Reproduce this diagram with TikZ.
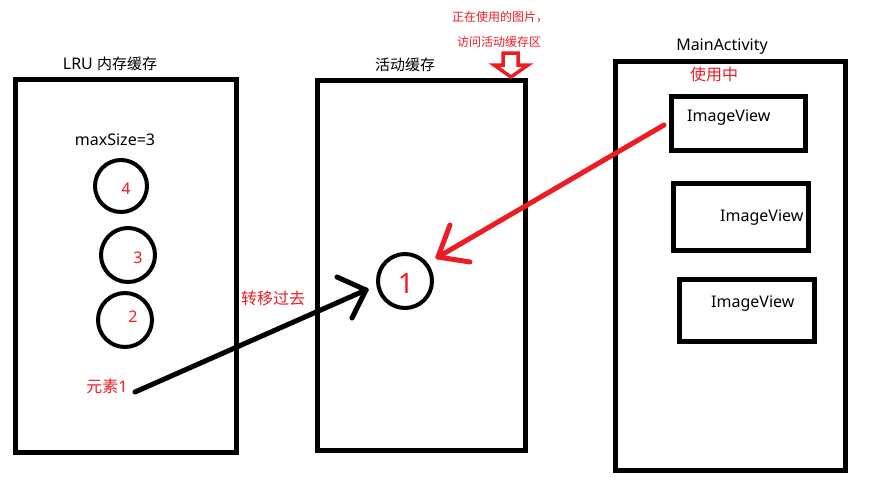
\documentclass[tikz,border=0pt]{standalone}
\usepackage{fontspec}
\setmainfont{Noto Sans}
\newfontfamily\cjk{Noto Sans CJK SC}
\definecolor{pred}{RGB}{237,28,36}
\begin{document}
\begin{tikzpicture}[x=1pt,y=-1pt,
  box/.style={draw=black,line width=5pt,inner sep=0pt},
  ring/.style={draw=black,line width=4pt,circle,inner sep=0pt},
  lbl/.style={font=\fontsize{16}{18}\selectfont,inner sep=0pt,text=black},
  rlbl/.style={font=\fontsize{16}{18}\selectfont,inner sep=0pt,text=pred},
  blk/.style={draw=black,line width=5pt,line cap=round},
  red/.style={draw=pred,line width=5pt,line cap=round}]
\useasboundingbox (0,0) rectangle (870,483);
% containers
\node[box,minimum width=221,minimum height=373] (lru) at (125.5,265.5) {};
\node[box,minimum width=208,minimum height=370] (act) at (421,265) {};
\node[box,minimum width=230,minimum height=409] (main) at (730,265.5) {};
\node[lbl,anchor=base] (lrut) at (110,69) {LRU {\cjk\fontsize{15}{18}\selectfont 内存缓存}};
\node[lbl,anchor=base] (actt) at (405,70) {\cjk\fontsize{15}{18}\selectfont 活动缓存};
\node[lbl,anchor=base] (maint) at (722,50) {MainActivity};
% image views
\node[box,minimum width=134,minimum height=54] (iv1) at (738,123) {};
\node[box,minimum width=135,minimum height=67] (iv2) at (740.5,216.5) {};
\node[box,minimum width=135,minimum height=62] (iv3) at (746.5,310) {};
\node[lbl,anchor=west] (ivt1) at (687,118) {ImageView};
\node[lbl,anchor=west] (ivt2) at (720,218) {ImageView};
\node[lbl,anchor=west] (ivt3) at (711,304) {ImageView};
\node[rlbl,anchor=base] (use) at (714,80) {\cjk 使用中};
% circles in LRU
\node[lbl,anchor=base] (max) at (115,145) {maxSize=3};
\node[ring,minimum width=52,minimum height=52] (c4) at (121,186) {};
\node[ring,minimum width=54,minimum height=52] (c3) at (128,255) {};
\node[ring,minimum width=54,minimum height=50] (c2) at (125,320) {};
\node[rlbl] (n4) at (126,189) {4};
\node[rlbl] (n3) at (138,258) {3};
\node[rlbl] (n2) at (133,317) {2};
\node[rlbl,anchor=base] (e1) at (107,392) {{\cjk 元素}1};
% circle in active cache
\node[ring,minimum width=54,minimum height=54] (c1) at (405,281) {};
\node[font=\fontsize{28}{30}\selectfont,text=pred,inner sep=0pt] (n1) at (406,283) {1};
% black arrow
\coordinate (bs) at (135,392);
\coordinate (bt) at (366,290);
\draw[blk] (bs) -- (bt);
\draw[blk] (bt) -- ++(-29,-13);
\draw[blk] (bt) -- ++(-14,28);
\node[rlbl,anchor=base] (move) at (273,304) {\cjk 转移过去};
% red arrow
\coordinate (rs) at (664,125);
\coordinate (rt) at (438,257);
\draw[red] (rs) -- (rt);
\draw[red] (rt) -- (450,225);
\draw[red] (rt) -- (470,262);
% top annotation
\node[font=\fontsize{12}{14}\selectfont,text=pred,inner sep=0pt] (note1) at (500,17) {\cjk 正在使用的图片，};
\node[font=\fontsize{12}{14}\selectfont,text=pred,inner sep=0pt] (note2) at (499,42) {\cjk 访问活动缓存区};
\draw[draw=pred,line width=3.5pt,line join=miter] (503,53) -- (518,53) -- (518,65) -- (528,65) -- (511,77) -- (494,65) -- (503,65) -- cycle;
\end{tikzpicture}
\end{document}
